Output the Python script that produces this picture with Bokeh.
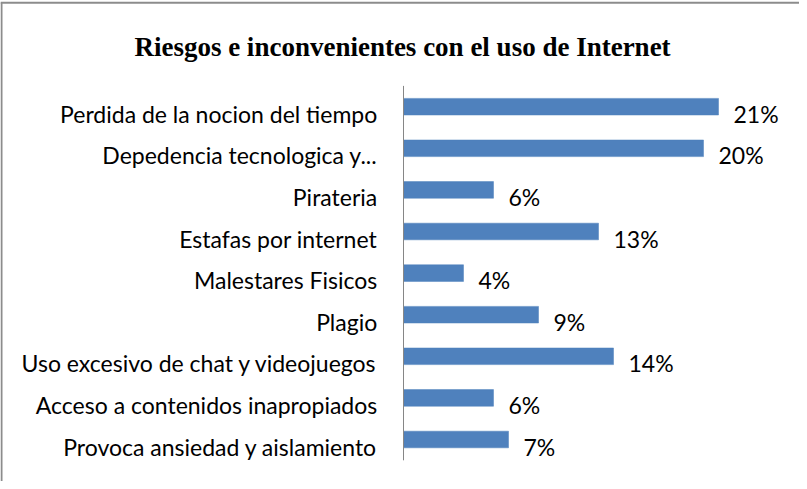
from bokeh.plotting import figure
from bokeh.models import Range1d, ColumnDataSource
from bokeh.core.properties import value
from bokeh.embed import file_html
from bokeh.resources import INLINE

title_text = "Riesgos e inconvenientes con el uso de Internet"
categories = [
    "Perdida de la nocion del tiempo",
    "Depedencia tecnologica y...",
    "Pirateria",
    "Estafas por internet",
    "Malestares Fisicos",
    "Plagio",
    "Uso excesivo de chat y videojuegos",
    "Acceso a contenidos inapropiados",
    "Provoca ansiedad y aislamiento",
]
values = [21, 20, 6, 13, 4, 9, 14, 6, 7]
value_labels = ["21%", "20%", "6%", "13%", "4%", "9%", "14%", "6%", "7%"]

n = len(categories)
ypos = [n - 1 - i for i in range(n)]

src = ColumnDataSource(dict(
    cat=categories, val=values, lab=value_labels, y=ypos,
    zero=[0] * n,
))

W, H = 799, 481
px_x = 15.0          # pixels per percent
zero_px = 403        # canvas x of the value axis
band_px = 41.6       # pixels per category
x0 = -zero_px / px_x
x1 = (W - zero_px) / px_x
y0 = -42 / band_px
y1 = y0 + H / band_px


def dx(px):
    return (px - zero_px) / px_x


def dy(py):
    return y1 - py / band_px


p = figure(width=W, height=H, output_backend="svg", toolbar_location=None,
           x_range=Range1d(x0, x1), y_range=Range1d(y0, y1),
           min_border=0, min_border_left=0, min_border_right=0,
           min_border_top=0, min_border_bottom=0)
p.axis.visible = False
p.grid.visible = False
p.outline_line_color = None
p.background_fill_color = "white"
p.border_fill_color = "white"

# chart-area border (left and top visible)
p.segment(x0=[dx(1)], y0=[dy(2)], x1=[dx(1)], y1=[dy(H + 5)],
          line_color="#8c8c8c", line_width=2)
p.segment(x0=[dx(0)], y0=[dy(2.3)], x1=[dx(W + 5)], y1=[dy(2.3)],
          line_color="#8c8c8c", line_width=2)

p.hbar(y="y", left="zero", right="val", height=0.4, source=src,
       fill_color="#4F81BD", line_color="#4F81BD", line_width=0.5)

# category axis line
p.segment(x0=[0], y0=[-0.5], x1=[0], y1=[n - 0.5], line_color="#868686", line_width=1)

font = value("Lato")
p.text(x=-1.75, y="y", text="cat", source=src, text_align="right",
       text_baseline="alphabetic", y_offset=7, text_font=font,
       text_font_size="23px", text_color="#000000")
p.text(x="val", y="y", text="lab", source=src, x_offset=15, text_align="left",
       text_baseline="alphabetic", y_offset=7, text_font=font,
       text_font_size="23px", text_color="#000000")

p.text(x=[dx(402)], y=[dy(46)], text=[title_text], text_align="center",
       text_baseline="alphabetic", text_font=value("Liberation Serif"),
       text_font_style="bold", text_font_size="27px", text_color="#000000")

open("out.html", "w").write(file_html(p, INLINE))
